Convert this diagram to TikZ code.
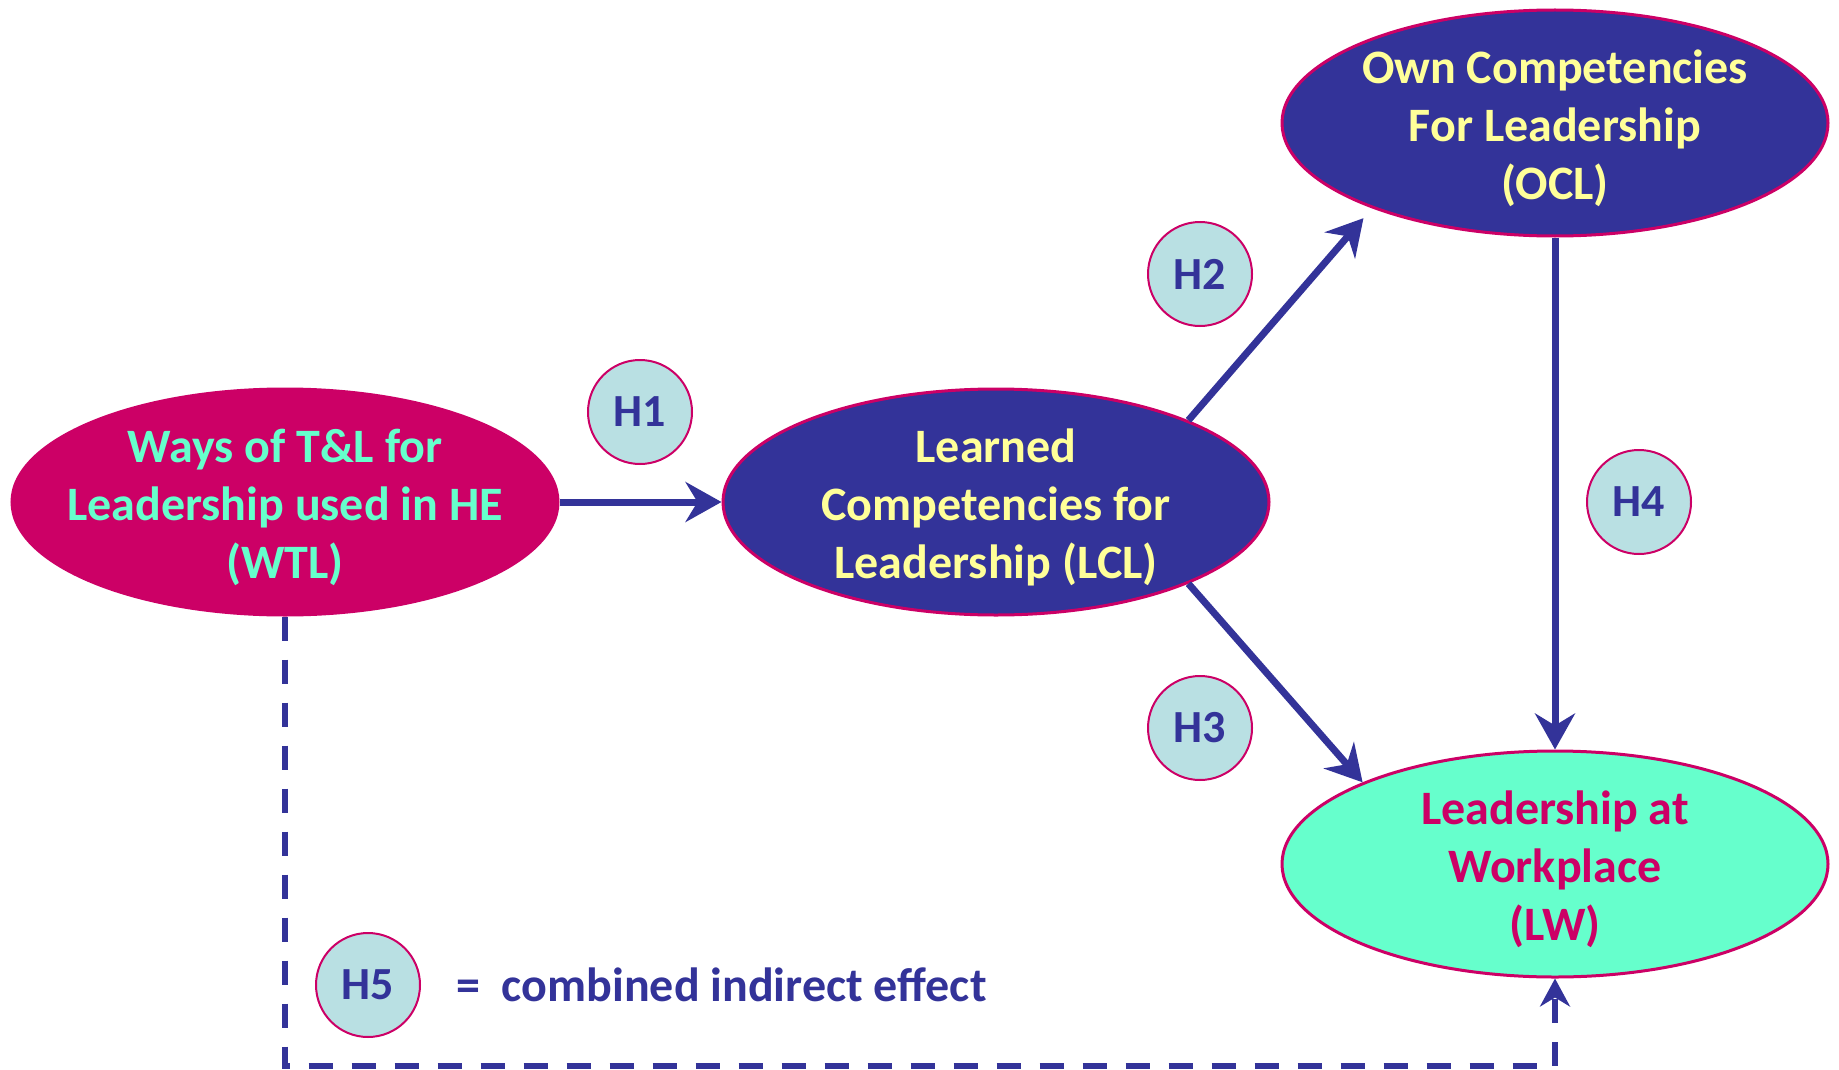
\documentclass[tikz,border=0pt]{standalone}
\usepackage{fontspec}
\setmainfont{Carlito}
\usetikzlibrary{shapes.geometric,arrows.meta}
\definecolor{mag}{HTML}{CC0066}
\definecolor{navy}{HTML}{333399}
\definecolor{aqua}{HTML}{66FFCC}
\definecolor{lyel}{HTML}{FFFF99}
\definecolor{lblue}{HTML}{B9E0E3}
\begin{document}
\begin{tikzpicture}[x=1pt,y=-1pt,
 ell/.style={ellipse, draw=mag, line width=3pt, minimum width=546pt, minimum height=226pt, inner sep=0pt},
 etext/.style={align=center, inner sep=0pt, yshift=-5pt, font=\bfseries\fontsize{48}{58}\selectfont},
 hyp/.style={circle, draw=mag, line width=2pt, fill=lblue, minimum size=104pt, inner sep=0pt, text=navy, font=\bfseries\fontsize{46}{52}\selectfont},
 arr/.style={draw=navy, line width=7pt, -{Stealth[length=36pt,width=40pt,inset=12pt]}},
 darr/.style={draw=navy, line width=6pt, dash pattern=on 24pt off 19pt, -{Stealth[length=28pt,width=30pt,inset=9pt]}}]
\useasboundingbox (0,0) rectangle (1839,1070);
\node[ell, fill=mag] (WTL) at (285,502) {};
\node[etext, text=aqua] (WTLt) at (WTL.center) {Ways of T\&L for\\Leadership used in HE\\(WTL)};
\node[ell, fill=navy] (LCL) at (996,502) {};
\node[etext, text=lyel] (LCLt) at (LCL.center) {Learned\\Competencies for\\Leadership (LCL)};
\node[ell, fill=navy] (OCL) at (1555,123) {};
\node[etext, text=lyel] (OCLt) at (OCL.center) {Own Competencies\\For Leadership\\(OCL)};
\node[ell, fill=aqua] (LW) at (1555,864) {};
\node[etext, text=mag] (LWt) at (LW.center) {Leadership at\\Workplace\\(LW)};

\node[hyp] (H1) at (640,412) {H1};
\node[hyp] (H2) at (1200,274) {H2};
\node[hyp] (H3) at (1200,728) {H3};
\node[hyp] (H4) at (1639,502) {H4};
\node[hyp] (H5) at (368,985) {H5};
\node[anchor=west, inner sep=0pt, text=navy, font=\bfseries\fontsize{48}{56}\selectfont] (H5t) at (456,985) {= \ combined indirect effect};

\draw[arr] (WTL.east) -- (LCL.west);
\draw[arr, shorten >=13pt] (LCL.23) -- (OCL.205);
\draw[arr] (LCL.-23) -- (LW.157);
\draw[arr] (OCL.south) -- (LW.north);
\coordinate (bot) at (0,1066);
\draw[darr] (WTL.south) -- (WTL.south |- bot) -- (LW.south |- bot) -- (LW.south);
\end{tikzpicture}
\end{document}
